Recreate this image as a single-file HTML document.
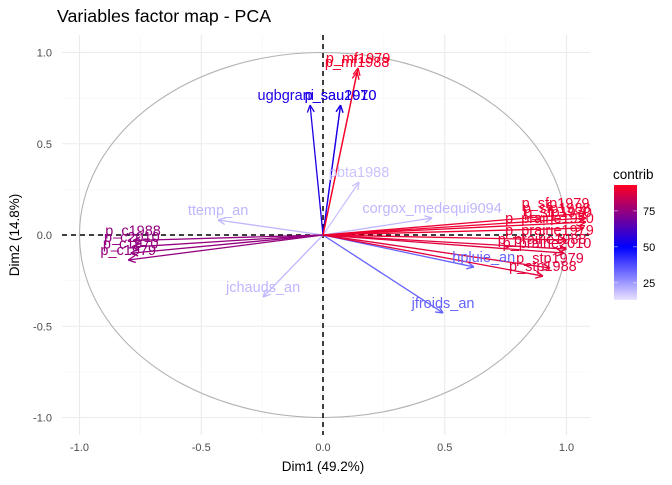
<!DOCTYPE html>
<html><head><meta charset="utf-8"><style>
body{margin:0;background:#fff;}
svg{font-family:"Liberation Sans",sans-serif;}
</style></head><body>
<svg id="c" width="672" height="480" viewBox="0 0 672 480" xmlns="http://www.w3.org/2000/svg">
<defs>
<linearGradient id="lg" x1="0" y1="1" x2="0" y2="0">
<stop offset="0" stop-color="#EAE2FF"/>
<stop offset="0.46" stop-color="#0000FF"/>
<stop offset="1" stop-color="#FF0022"/>
</linearGradient>
</defs>
<text x="57" y="22" font-size="17.8" fill="#000">Variables factor map - PCA</text>
<g id="grid"></g>
<g id="marks"></g>
<text x="323" y="471" font-size="13.5" text-anchor="middle">Dim1 (49.2%)</text>
<text transform="translate(19,235) rotate(-90)" font-size="13.5" text-anchor="middle">Dim2 (14.8%)</text>
<g>
<text x="613" y="179" font-size="13.5">contrib</text>
<rect x="614" y="185" width="23" height="115" fill="url(#lg)"/>
<g id="leg"></g>
</g>
</svg>
<script>
const varNames=["p_mf1979","p_mf1988","ugbgrani","p_sau2010","p_sau1970","pbta1988","corgox_medequi9094","hpluie_an","jfroids_an","ttemp_an","jchauds_an","p_c1988","p_c2010","p_c1970","p_c1979","p_sfp1979","p_sfp1988","p_sfp1970","p_prairie1970","p_prairie1979","p_prairie1988","p_prairie2010","p_stp1979","p_stp1988"];
const dim1=[0.144,0.140,-0.053,0.072,0.072,0.148,0.448,0.62,0.493,-0.431,-0.246,-0.78,-0.785,-0.79,-0.80,1.08,1.08,1.08,1.07,1.0,1.0,0.99,0.932,0.903];
const dim2=[0.915,0.893,0.712,0.712,0.712,0.29,0.093,-0.175,-0.427,0.082,-0.34,-0.03,-0.066,-0.1,-0.137,0.12,0.093,0.071,0.038,-0.027,-0.077,-0.099,-0.181,-0.225];
const contrib=[92,90,55,55,55,18,20,34,34,20,20,75,75,75,75,90,90,90,90,90,88,88,88,88];
const labelDx=[0,0,-0.1,0,0,0,0,0.04,0,0,0,0,0,0,0,-0.125,-0.12,-0.115,-0.14,-0.07,-0.1,-0.07,0,0];
const xTicks=[-1,-0.5,0,0.5,1];
const xTickLabels=["-1.0","-0.5","0.0","0.5","1.0"];
const yTicks=[-1,-0.5,0,0.5,1];
const yTickLabels=["-1.0","-0.5","0.0","0.5","1.0"];
const legendVals=[25,50,75];
const NS="http://www.w3.org/2000/svg";
const X=v=>323+v*243.5, Y=v=>235-v*182.5;
const L=v=>185+(93-v)/80*115;
function mk(t,a,p){const e=document.createElementNS(NS,t);for(const k in a)e.setAttribute(k,a[k]);p.appendChild(e);return e;}
const g=document.getElementById('grid'),m=document.getElementById('marks'),lg=document.getElementById('leg');
[-0.75,-0.25,0.25,0.75].forEach(v=>{const a=mk('line',{x1:X(v),x2:X(v),y1:35,y2:435,stroke:'#f4f4f4','stroke-width':0.6},g);
const b=mk('line',{x1:62,x2:590,y1:Y(v),y2:Y(v),stroke:'#f4f4f4','stroke-width':0.6},g);});
xTicks.forEach((v,i)=>{const a=mk('line',{x1:X(v),x2:X(v),y1:35,y2:435,stroke:'#ebebeb','stroke-width':1.1},g);
const t=mk('text',{x:X(v),y:451,'font-size':11,'text-anchor':'middle',fill:'#4d4d4d'},g);t.textContent=xTickLabels[i];});
yTicks.forEach((v,i)=>{const a=mk('line',{x1:62,x2:590,y1:Y(v),y2:Y(v),stroke:'#ebebeb','stroke-width':1.1},g);
const t=mk('text',{x:52,y:Y(v)+4,'font-size':11,'text-anchor':'end',fill:'#4d4d4d'},g);t.textContent=yTickLabels[i];});
const circ=mk('ellipse',{cx:X(0),cy:Y(0),rx:X(1)-X(0),ry:Y(0)-Y(1),fill:'none',stroke:'#b3b3b3','stroke-width':1.1},m);

const hz=mk('line',{x1:62,x2:590,y1:Y(0),y2:Y(0),stroke:'#000','stroke-width':1.5,'stroke-dasharray':'5,4'},m);

const vt=mk('line',{x1:X(0),x2:X(0),y1:35,y2:435,stroke:'#000','stroke-width':1.5,'stroke-dasharray':'5,4'},m);

function col(c){const lo=[234,226,255],mid=[0,0,255],hi=[255,0,34];let a,b,t;
if(c<50){a=lo;b=mid;t=(c-13)/37;}else{a=mid;b=hi;t=(c-50)/43;}t=Math.max(0,Math.min(1,t));
return 'rgb('+a.map((v,i)=>Math.round(v+(b[i]-v)*t)).join(',')+')';}
const order=contrib.map((c,i)=>i).sort((a,b)=>contrib[a]-contrib[b]);
order.forEach(i=>{const c=col(contrib[i]);const x=X(dim1[i]),y=Y(dim2[i]);
const grp=mk('g',{},m);
mk('line',{x1:X(0),y1:Y(0),x2:x,y2:y,stroke:c,'stroke-width':1.3},grp);
const ang=Math.atan2(y-Y(0),x-X(0)),h=8;
[0.45,-0.45].forEach(d=>mk('line',{x1:x,y1:y,x2:x-h*Math.cos(ang+d),y2:y-h*Math.sin(ang+d),stroke:c,'stroke-width':1.3},grp));});
order.forEach(i=>{const t=mk('text',{x:X(dim1[i]+labelDx[i]),y:Y(dim2[i])-5,'font-size':14.5,'text-anchor':'middle',fill:col(contrib[i])},m);
t.textContent=varNames[i];});
legendVals.forEach(v=>{const y=L(v);mk('line',{x1:614,x2:618,y1:y,y2:y,stroke:'#fff','stroke-width':0.8,opacity:0.6},lg);mk('line',{x1:633,x2:637,y1:y,y2:y,stroke:'#fff','stroke-width':0.8,opacity:0.6},lg);
const t=mk('text',{x:643,y:y+4,'font-size':11,'text-anchor':'start',fill:'#000'},lg);t.textContent=v;});
</script>
</body></html>
